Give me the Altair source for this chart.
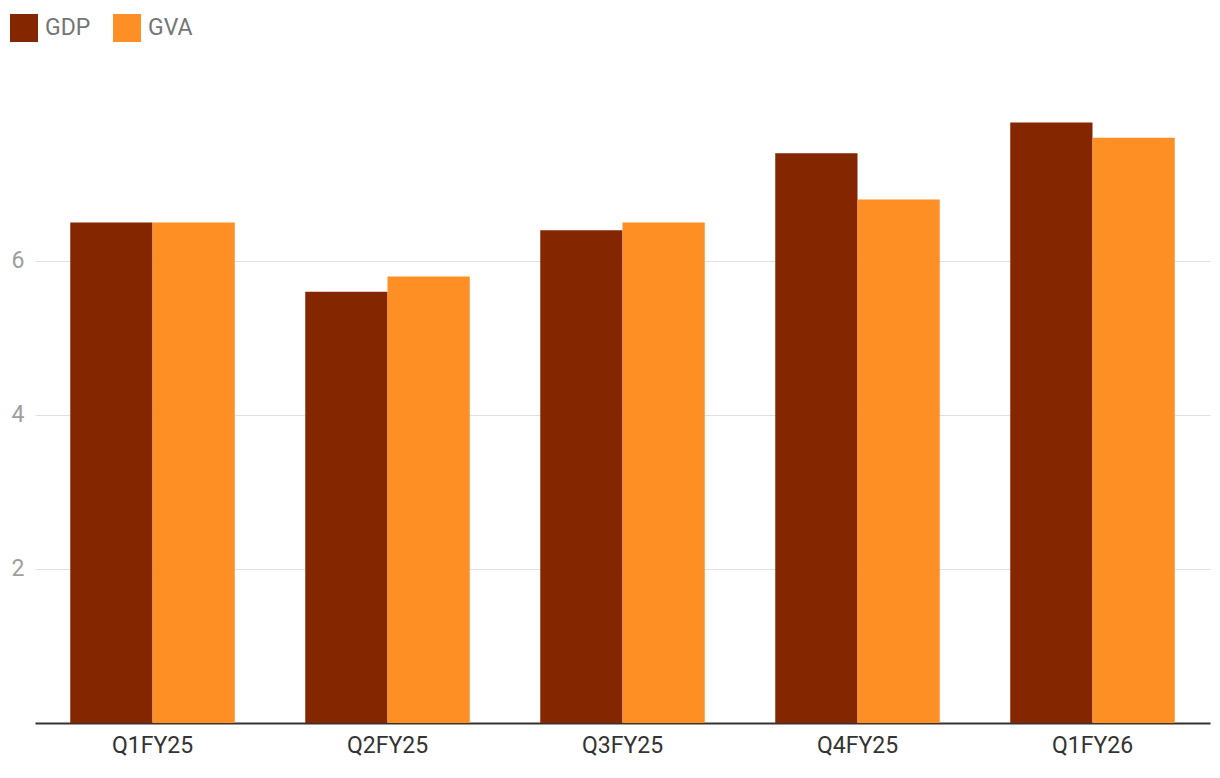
import altair as alt
import pandas as pd

quarters = ["Q1FY25", "Q2FY25", "Q3FY25", "Q4FY25", "Q1FY26"]
gdp = [6.5, 5.6, 6.4, 7.4, 7.8]
gva = [6.5, 5.8, 6.5, 6.8, 7.6]
series = ["GDP", "GVA"]
colors = ["#842600", "#FD8F24"]

rows = []
for q, a, b in zip(quarters, gdp, gva):
    rows.append({"quarter": q, "series": "GDP", "value": a})
    rows.append({"quarter": q, "series": "GVA", "value": b})
df = pd.DataFrame(rows)

chart = alt.Chart(df).mark_bar().encode(
    x=alt.X("quarter:N", sort=quarters, title=None,
            scale=alt.Scale(paddingInner=0.3, paddingOuter=0.15),
            axis=alt.Axis(labelAngle=0, labelFontSize=23, labelColor="#333333",
                          labelPadding=11, ticks=False, domainColor="#333333",
                          domainWidth=2, labelFont="Roboto")),
    xOffset=alt.XOffset("series:N", sort=series),
    y=alt.Y("value:Q", title=None,
            scale=alt.Scale(domain=[0, 7.948], nice=False),
            axis=alt.Axis(values=[2, 4, 6], ticks=False, domain=False,
                          labelFontSize=23, labelColor="#9e9e9e", labelPadding=11,
                          gridColor="#e0e0e0", labelFont="Roboto")),
    color=alt.Color("series:N", sort=series,
                    scale=alt.Scale(domain=series, range=colors),
                    legend=alt.Legend(title=None, orient="none", legendX=-25, legendY=-97,
                                      direction="horizontal", symbolType="square",
                                      symbolSize=784, symbolStrokeWidth=0,
                                      labelFontSize=23, labelColor="#757575",
                                      labelFont="Roboto", labelOffset=7,
                                      columnPadding=22, padding=0)),
).properties(
    width=1175, height=612,
    autosize=alt.AutoSizeParams(type="none"),
    padding={"left": 27, "top": 103, "right": 2, "bottom": 45},
).configure_view(stroke=None)

chart.save("out.html", embed_options={"renderer": "svg", "actions": False})
